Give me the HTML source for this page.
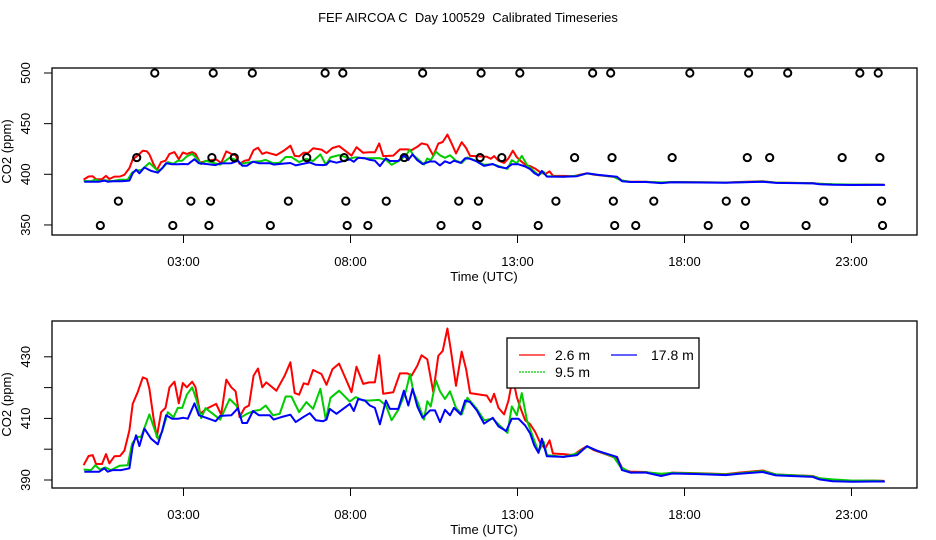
<!DOCTYPE html>
<html><head><meta charset="utf-8"><style>
html,body{margin:0;padding:0;background:#fff;}
svg{display:block;font-family:"Liberation Sans",sans-serif;}
</style></head><body>
<svg id="chart" width="936" height="540" viewBox="0 0 936 540" xmlns="http://www.w3.org/2000/svg">
<text x="468" y="22" font-size="13" text-anchor="middle" style="white-space:pre">FEF AIRCOA C  Day 100529  Calibrated Timeseries</text>
<g id="toppanel"></g>
<g id="botpanel"></g>
</svg>
<script>
// ---- data (hours UTC, ppm) ----
const redT=[0.01,0.16,0.28,0.38,0.56,0.68,0.78,0.93,1.10,1.23,1.38,1.48,1.63,1.78,1.90,1.98,2.10,2.20,2.33,2.46,2.58,2.73,2.86,2.98,3.10,3.26,3.36,3.50,3.68,3.98,4.13,4.28,4.43,4.56,4.68,4.83,4.96,5.10,5.23,5.36,5.48,5.78,6.03,6.20,6.33,6.46,6.60,6.73,6.88,7.13,7.28,7.46,7.66,7.86,8.03,8.18,8.38,8.56,8.73,8.86,8.98,9.28,9.48,9.70,9.83,10.0,10.13,10.30,10.48,10.63,10.76,10.90,11.0,11.16,11.33,11.46,11.58,12.08,12.20,12.30,12.43,12.60,12.73,12.86,12.98,13.10,13.23,13.38,13.53,13.70,13.83,13.96,14.06,14.38,14.68,14.88,15.08,15.28,15.58,15.98,16.15,16.38,16.85,17.3,17.63,18.44,19.24,19.64,20.34,20.74,21.84,22.04,22.43,23.03,23.63,23.98];
const redV=[394.8,397.8,398.1,395.2,395.2,398.4,395.4,397.7,397.8,399.5,406.1,414.7,418.5,423.3,422.8,419.6,410.4,404.0,412.0,413.4,420.1,421.9,414.9,421.5,420.1,421.9,420.1,411.5,413.1,414.7,411.2,422.6,420.1,418.8,410.4,413.4,414.2,423.9,426.2,420.1,421.7,419.0,423.9,428.2,418.2,417.7,421.4,421.0,425.7,424.4,420.9,426.0,427.8,422.8,418.5,426.8,421.2,421.7,421.7,430.5,418.0,418.5,424.6,424.6,423.9,427.1,430.5,429.2,418.5,430.3,431.9,439.2,432.5,420.6,431.7,426.0,418.2,417.4,415.3,418.0,413.4,411.3,415.8,423.3,416.9,413.1,409.4,408.1,405.6,401.6,400.2,402.9,398.6,398.4,398.1,399.7,401.0,399.7,398.6,397.0,393.6,392.7,392.6,391.6,392.4,392.2,391.9,392.4,393.1,391.8,391.3,390.6,390.0,389.7,389.8,389.7];
const greenT=[0.01,0.23,0.36,0.50,0.66,0.83,1.08,1.33,1.46,1.60,1.73,1.98,2.23,2.36,2.53,2.70,2.83,2.96,3.10,3.26,3.38,3.53,3.66,3.88,4.10,4.38,4.58,4.73,4.90,5.10,5.30,5.46,5.68,5.88,6.06,6.23,6.46,6.68,6.88,7.10,7.26,7.40,7.66,7.98,8.16,8.38,8.58,8.86,9.06,9.23,9.43,9.66,9.78,9.88,10.0,10.20,10.30,10.40,10.56,10.68,10.83,10.98,11.16,11.33,11.50,11.78,12.0,12.26,12.43,12.70,12.83,12.98,13.13,13.28,13.46,13.63,13.78,13.88,14.38,14.78,15.08,15.38,15.88,16.08,16.38,16.85,17.3,17.63,18.44,19.24,19.64,20.34,20.74,21.84,22.04,22.43,23.03,23.63,23.90];
const greenV=[393.4,393.2,394.8,393.4,394.1,393.2,394.6,394.8,401.8,404.0,404.0,411.3,403.4,405.6,412.0,410.4,413.4,413.4,417.7,420.1,416.3,410.1,413.3,411.5,409.6,416.3,414.2,410.4,411.5,412.4,412.8,414.2,411.0,411.5,417.1,417.1,412.0,415.3,413.1,419.6,409.6,416.7,419.0,415.5,416.9,415.8,415.8,416.0,414.2,409.4,412.8,418.8,424.4,418.8,415.6,409.6,415.6,413.9,422.3,418.8,416.3,418.8,413.4,411.3,416.7,413.1,409.4,409.9,408.1,405.3,413.9,411.0,418.2,409.4,404.0,399.1,402.4,398.1,397.5,398.6,400.8,399.5,397.5,394.3,392.4,392.5,392.0,392.3,392.1,391.8,392.2,392.9,391.8,391.2,390.6,390.2,389.8,389.8,389.7];
const blueT=[0.03,0.48,0.63,0.73,0.88,1.13,1.38,1.48,1.58,1.68,1.83,2.03,2.23,2.36,2.48,2.66,2.83,3.00,3.13,3.33,3.46,3.68,3.96,4.10,4.43,4.63,4.76,4.90,5.08,5.26,5.58,5.70,5.98,6.20,6.36,6.58,6.78,6.96,7.18,7.28,7.38,7.58,7.98,8.10,8.23,8.43,8.58,8.73,8.88,9.06,9.18,9.43,9.60,9.73,9.86,10.0,10.16,10.38,10.53,10.68,10.83,10.98,11.10,11.30,11.43,11.58,11.78,12.0,12.26,12.43,12.66,12.83,13.03,13.23,13.38,13.50,13.63,13.73,13.88,14.38,14.78,15.08,15.38,15.98,16.13,16.38,16.85,17.3,17.63,18.44,19.24,19.64,20.34,20.74,21.84,22.04,22.43,23.03,23.63,24.0];
const blueV=[392.7,392.7,393.8,392.7,393.2,393.2,393.8,401.0,404.5,401.0,406.7,403.4,401.6,405.9,411.0,409.9,409.9,410.2,409.9,414.9,411.0,410.2,409.1,410.8,411.0,413.3,408.5,408.5,412.4,411.0,411.0,409.6,410.6,411.2,408.8,410.4,411.7,409.4,409.1,409.6,413.1,411.5,414.7,412.4,416.3,415.8,414.2,413.4,408.1,415.8,413.1,413.1,419.0,414.2,419.6,413.9,410.2,412.6,412.6,408.8,412.8,411.0,413.4,411.3,415.8,415.3,412.6,408.3,410.2,407.4,405.9,409.9,409.9,407.7,405.1,401.3,398.8,403.4,397.7,397.5,398.1,401.0,399.5,397.5,393.2,392.4,392.4,391.3,392.1,391.9,391.6,392.0,392.6,391.5,391.0,390.2,389.6,389.4,389.5,389.5];
// flag markers (hours, ppm level)
const flagT=[2.14,3.89,5.06,7.24,7.77,10.16,11.91,13.07,15.25,15.79,18.16,19.92,21.09,23.25,23.80,
 1.60,3.85,4.52,6.69,7.81,9.61,11.88,12.53,14.71,15.83,17.63,19.88,20.55,22.72,23.85,
 1.05,3.22,3.81,6.14,7.86,9.07,11.24,11.83,14.15,15.87,17.08,19.25,19.83,22.17,23.90,
 0.51,2.68,3.76,5.60,7.90,8.52,10.71,11.78,13.62,15.91,16.54,18.71,19.80,21.64,23.93];
const flagV=[500,500,500,500,500,500,500,500,500,500,500,500,500,500,500,
 416.5,416.5,416.5,416.5,416.5,416.5,416.5,416.5,416.5,416.5,416.5,416.5,416.5,416.5,416.5,
 373.5,373.5,373.5,373.5,373.5,373.5,373.5,373.5,373.5,373.5,373.5,373.5,373.5,373.5,373.5,
 349.5,349.5,349.5,349.5,349.5,349.5,349.5,349.5,349.5,349.5,349.5,349.5,349.5,349.5,349.5];
const xTicks=[3,8,13,18,23];
const xTickLabels=["03:00","08:00","13:00","18:00","23:00"];
const topYTicks=[350,400,450,500];
const botYTicks=[390,400,410,420,430];
const botYLabels=["390","","410","","430"];
const seriesNames=["2.6 m","9.5 m","17.8 m"];

const NS="http://www.w3.org/2000/svg";
function mk(parent,tag,attrs){const e=document.createElementNS(NS,tag);for(const k in attrs)e.setAttribute(k,attrs[k]);parent.appendChild(e);return e;}
const xs=h=>83.3+h*33.4;
function panel(g,box,ys,yTicks,yLabels){
  const b=mk(g,'rect',{x:box.l,y:box.t,width:box.r-box.l,height:box.b-box.t,fill:'none',stroke:'#000','stroke-width':1.3});
  
  
  xTicks.forEach((h,i)=>{
    const x=xs(h);
    const t=mk(g,'line',{x1:x,x2:x,y1:box.b,y2:box.b+8,stroke:'#000','stroke-width':1});
    
    
    const l=mk(g,'text',{x:x,y:box.b+31,'font-size':13,'text-anchor':'middle'});l.textContent=xTickLabels[i];
    
    
  });
  yTicks.forEach((v,i)=>{
    const y=ys(v);
    const t=mk(g,'line',{x1:box.l-8,x2:box.l,y1:y,y2:y,stroke:'#000','stroke-width':1});
    
    
    if(yLabels[i]){
      const l=mk(g,'text',{x:0,y:0,'font-size':13,'text-anchor':'middle',transform:`translate(${box.l-22},${y}) rotate(-90)`});l.textContent=yLabels[i];
      
      
    }
  });
  const xl=mk(g,'text',{x:484,y:box.b+46,'font-size':13,'text-anchor':'middle'});xl.textContent='Time (UTC)';
  
  
  const cy=(box.t+box.b)/2;
  const yl=mk(g,'text',{x:0,y:0,'font-size':13,'text-anchor':'middle',transform:`translate(${box.l-41},${cy}) rotate(-90)`});yl.textContent='CO2 (ppm)';
  
  
  const defs=[[redT,redV,'#f00','series-2-6m'],[greenT,greenV,'#0c0','series-9-5m'],[blueT,blueV,'#00f','series-17-8m']];
  defs.forEach(([T,V,c,n])=>{
    const pts=T.map((h,i)=>xs(h).toFixed(1)+','+ys(V[i]).toFixed(1)).join(' ');
    const p=mk(g,'polyline',{points:pts,fill:'none',stroke:c,'stroke-width':2,'stroke-linejoin':'round'});
    
    
  });
}
const topPanel=document.getElementById('toppanel'),botPanel=document.getElementById('botpanel');
const topY=v=>174.3-(v-400)*1.013;
panel(topPanel,{l:52,r:917,t:68,b:235},topY,topYTicks,topYTicks.map(String));
flagT.forEach((h,i)=>{
  const c=mk(topPanel,'circle',{cx:xs(h),cy:topY(flagV[i]),r:3.6,fill:'none',stroke:'#000','stroke-width':2});
  
  
});
const botY=v=>480-(v-390)*3.08;
panel(botPanel,{l:52,r:917,t:321,b:488},botY,botYTicks,botYLabels);
// legend
const lg=mk(botPanel,'g',{});


mk(lg,'rect',{x:507,y:338,width:192,height:50,fill:'#fff',stroke:'#000','stroke-width':1.3});
const lpos=[[519,355,'#f00'],[519,372,'#0c0'],[611,355,'#00f']];
seriesNames.forEach((n,i)=>{
  const [x,y,c]=lpos[i];
  const e=mk(lg,'g',{});
  
  
  mk(e,'line',{x1:x,x2:x+26,y1:y,y2:y,stroke:c,'stroke-width':1.3,'stroke-dasharray':i==1?'2,1':'none'});
  const t=mk(e,'text',{x:i==2?x+40:x+36,y:y+5,'font-size':14});t.textContent=n;
});
</script>
</body></html>
